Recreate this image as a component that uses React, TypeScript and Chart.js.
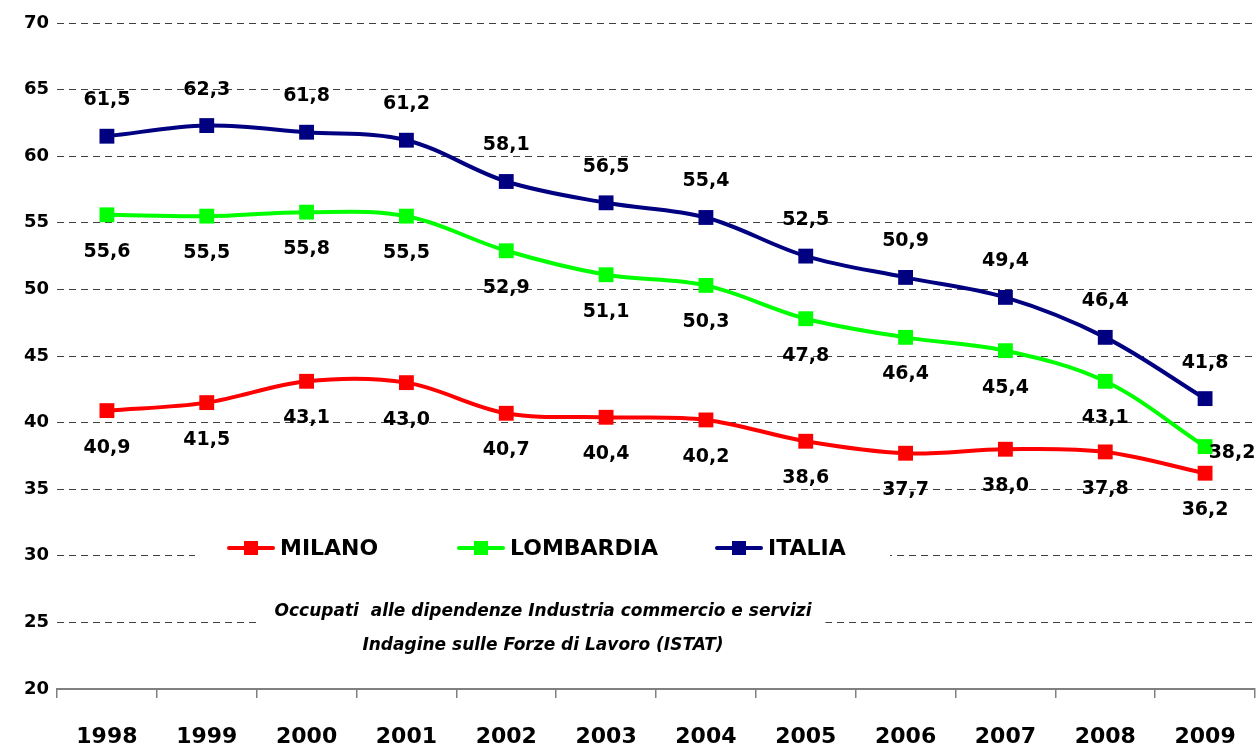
import React, { useEffect, useRef } from "react";
import { Chart, registerables } from "chart.js";

Chart.register(...registerables);

const years = ["1998", "1999", "2000", "2001", "2002", "2003", "2004", "2005", "2006", "2007", "2008", "2009"];
const milano = [40.9, 41.5, 43.1, 43.0, 40.7, 40.4, 40.2, 38.6, 37.7, 38.0, 37.8, 36.2];
const lombardia = [55.6, 55.5, 55.8, 55.5, 52.9, 51.1, 50.3, 47.8, 46.4, 45.4, 43.1, 38.2];
const italia = [61.5, 62.3, 61.8, 61.2, 58.1, 56.5, 55.4, 52.5, 50.9, 49.4, 46.4, 41.8];
const seriesNames = ["MILANO", "LOMBARDIA", "ITALIA"];
const seriesColors = ["#FF0000", "#00FF00", "#000080"];
const yMin = 20;
const yMax = 70;
const yStep = 5;
const noteLines = [
  "Occupati  alle dipendenze Industria commercio e servizi",
  "Indagine sulle Forze di Lavoro (ISTAT)",
];

const FONT = '"DejaVu Sans", "Liberation Sans", sans-serif';

// label placement: per series vertical offset, with individual overrides
const labelDy = [37, 37, -36];
const labelOverride: Record<string, { dx: number; dy: number }> = {
  "1-11": { dx: 27, dy: 6 },
};

const fmt = (v: number) => v.toFixed(1).replace(".", ",");

const labelsPlugin = {
  id: "valueLabels",
  afterDatasetsDraw(chart: any) {
    const ctx = chart.ctx;
    ctx.save();
    ctx.font = `bold 19px ${FONT}`;
    ctx.fillStyle = "#000";
    ctx.textAlign = "center";
    ctx.textBaseline = "middle";
    chart.data.datasets.forEach((ds: any, di: number) => {
      const meta = chart.getDatasetMeta(di);
      meta.data.forEach((pt: any, i: number) => {
        const ov = labelOverride[`${di}-${i}`];
        const dx = ov ? ov.dx : 0;
        const dy = ov ? ov.dy : labelDy[di];
        ctx.fillText(fmt(ds.data[i]), pt.x + dx, pt.y + dy);
      });
    });
    ctx.restore();
  },
};

const NOTE_FONT = `italic bold 17px ${FONT}`;

const decorPlugin = {
  id: "decor",
  beforeDatasetsDraw(chart: any) {
    const ctx = chart.ctx;
    const a = chart.chartArea;
    ctx.save();
    const legY = a.top + 525;
    ctx.fillStyle = "#fff";
    ctx.fillRect(a.left + 138, legY - 17, 695, 34);
    ctx.font = NOTE_FONT;
    const cx = a.left + 486;
    const w = ctx.measureText(noteLines[0]).width;
    ctx.fillRect(cx - w / 2 - 14, a.top + 575, w + 28, 60);
    ctx.restore();
  },
  afterDatasetsDraw(chart: any) {
    const ctx = chart.ctx;
    const a = chart.chartArea;
    ctx.save();
    const legY = a.top + 525;
    const starts = [172, 402, 660];
    chart.data.datasets.forEach((ds: any, di: number) => {
      const x0 = a.left + starts[di];
      ctx.strokeStyle = ds.borderColor;
      ctx.lineWidth = 4;
      ctx.lineCap = "round";
      ctx.beginPath();
      ctx.moveTo(x0, legY);
      ctx.lineTo(x0 + 44, legY);
      ctx.stroke();
      ctx.fillStyle = ds.borderColor;
      ctx.fillRect(x0 + 22 - 7, legY - 7, 14, 14);
      ctx.fillStyle = "#000";
      ctx.font = `bold 22px ${FONT}`;
      ctx.textAlign = "left";
      ctx.textBaseline = "middle";
      ctx.fillText(ds.label, x0 + 51, legY + 1);
    });
    ctx.font = NOTE_FONT;
    ctx.textAlign = "center";
    ctx.textBaseline = "middle";
    ctx.fillStyle = "#000";
    const cx = a.left + 486;
    ctx.fillText(noteLines[0], cx, a.top + 589);
    ctx.fillText(noteLines[1], cx, a.top + 623);
    ctx.restore();
  },
};

export default function App() {
  const ref = useRef<HTMLCanvasElement | null>(null);
  useEffect(() => {
    if (!ref.current) return;
    const series = [milano, lombardia, italia];
    const chart = new Chart(ref.current, {
      type: "line",
      data: {
        labels: years,
        datasets: series.map((d, i) => ({
          label: seriesNames[i],
          data: d,
          borderColor: seriesColors[i],
          backgroundColor: seriesColors[i],
          pointBackgroundColor: seriesColors[i],
          pointBorderColor: seriesColors[i],
          borderWidth: 4,
          pointStyle: "rect",
          pointRadius: 10.5,
          pointBorderWidth: 0,
          tension: 0.35,
          fill: false,
          clip: false,
        })),
      },
      options: {
        responsive: false,
        animation: false,
        events: [],
        layout: { autoPadding: false, padding: { top: 23, right: 3, left: 0, bottom: 0 } },
        plugins: {
          legend: { display: false },
          tooltip: { enabled: false },
          title: { display: false },
        },
        scales: {
          x: {
            offset: true,
            grid: {
              display: true,
              offset: true,
              drawOnChartArea: false,
              drawTicks: true,
              tickLength: 9,
              color: "#808080",
              lineWidth: 1.5,
            },
            border: { display: true, color: "#808080", width: 2 },
            ticks: {
              color: "#000",
              font: { family: FONT, size: 22, weight: "bold" },
              padding: 26,
              maxRotation: 0,
              autoSkip: false,
            },
            afterFit: (s: any) => {
              s.height = 60;
              s.paddingLeft = 0;
              s.paddingRight = 0;
            },
          },
          y: {
            min: yMin,
            max: yMax,
            grid: {
              drawTicks: false,
              color: (c: any) => (c.tick && c.tick.value === yMin ? "rgba(0,0,0,0)" : "#404040"),
              lineWidth: 1,
            },
            border: { display: false, dash: [7, 5] },
            ticks: {
              stepSize: yStep,
              color: "#000",
              font: { family: FONT, size: 18, weight: "bold" },
              padding: 8,
            },
            afterFit: (s: any) => {
              s.width = 57;
            },
          },
        },
      },
      plugins: [decorPlugin, labelsPlugin],
    } as any);
    return () => chart.destroy();
  }, []);
  return (
    <div style={{ position: "absolute", left: 0, top: 0, width: 1258, height: 749, background: "#fff" }}>
      <canvas ref={ref} width={1258} height={749} />
    </div>
  );
}
